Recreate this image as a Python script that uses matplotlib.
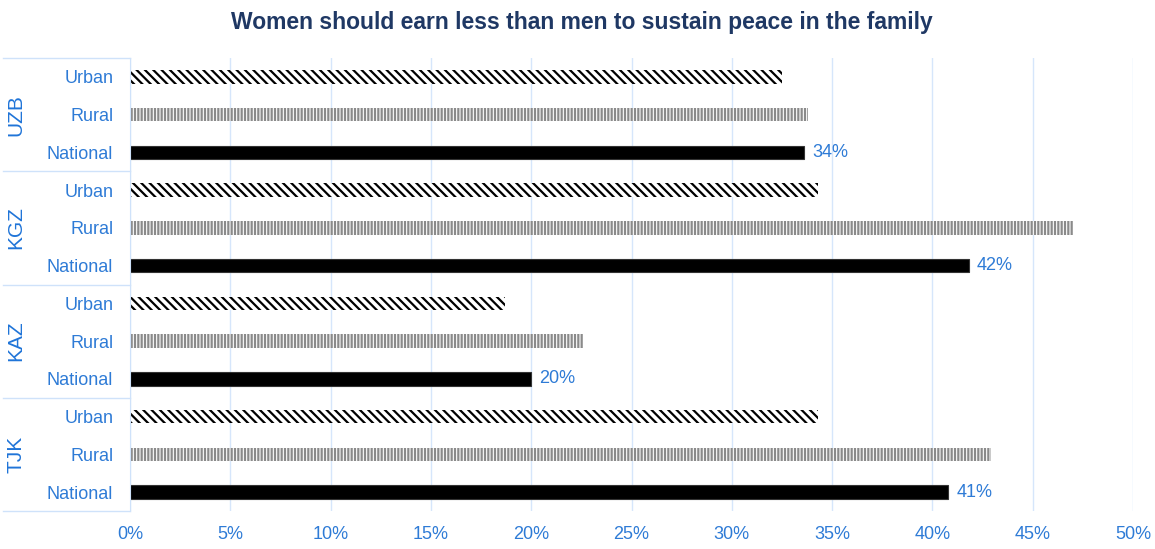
import matplotlib; matplotlib.use("Agg")
import matplotlib.pyplot as plt
import matplotlib.transforms as mtrans
from matplotlib.lines import Line2D

NAVY="#1F3864";BLUE="#2E7BD6";GRID="#D6E6FB";EDGE="#CFE2FA"
plt.rcParams.update({"font.family":["Liberation Sans Narrow","Liberation Sans","DejaVu Sans"],"hatch.linewidth":1.6})

countries=["UZB","KGZ","KAZ","TJK"]
areas=["Urban","Rural","National"]
urban=[32.5,34.3,18.7,34.3]
rural=[33.8,47.0,22.6,42.9]
national=[33.6,41.8,20.0,40.8]
nat_labels=["34%","42%","20%","41%"]
xticks=[0,5,10,15,20,25,30,35,40,45,50]

fig=plt.figure(figsize=(11.55,5.49),dpi=100)
ax=fig.add_axes([130/1155,1-511/549,1003/1155,453/549])

h=0.36
for i,c in enumerate(countries):
    base=i*3
    ax.barh(base,urban[i],height=h,color="white",edgecolor="black",hatch="\\\\\\\\",linewidth=0)
    ax.barh(base+1,rural[i],height=h,color="white",edgecolor="#8a8a8a",hatch="|||||",linewidth=0)
    ax.barh(base+2,national[i],height=h,color="black",edgecolor="#333333",linewidth=0.8)
    ax.text(national[i]+0.4,base+2,nat_labels[i],va="center",ha="left",fontsize=13,color=BLUE)

ax.set_ylim(11.5,-0.5); ax.set_xlim(0,50)
ax.set_xticks(xticks); ax.set_xticklabels([f"{t}%" for t in xticks],fontsize=13,color=BLUE)
ax.set_yticks(range(12)); ax.set_yticklabels(areas*4,fontsize=13,color=BLUE)
ax.tick_params(axis="y",length=0,pad=12)
ax.tick_params(axis="x",length=0,pad=11)
ax.grid(axis="x",color=GRID,lw=1); ax.set_axisbelow(True)
for s in ["top","right","bottom"]: ax.spines[s].set_visible(False)
ax.spines["left"].set_color(EDGE)

# group boxes on the left
tr=mtrans.blended_transform_factory(fig.transFigure,ax.transData)
for k in range(len(countries)+1):
    fig.add_artist(Line2D([3/1155,130/1155],[k*3-0.5]*2,transform=tr,color=EDGE,lw=1))
for i,c in enumerate(countries):
    fig.text(16/1155,i*3+1,c,transform=tr,rotation=90,va="center",ha="center",fontsize=15,color="#1F74D8")

fig.text(582/1155,1-22/549,"Women should earn less than men to sustain peace in the family",
         ha="center",va="center",fontsize=16.5,fontweight="bold",color=NAVY)
fig.savefig("out.png",dpi=100)
